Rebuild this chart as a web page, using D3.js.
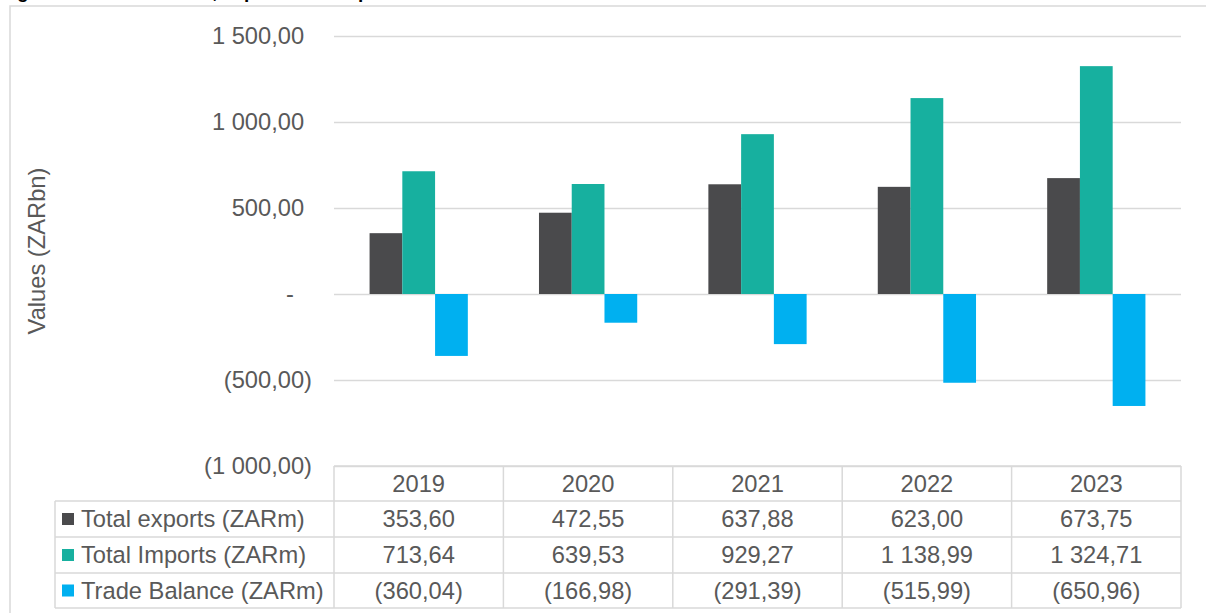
<!DOCTYPE html>
<html>
<head>
<meta charset="utf-8">
<script src="https://cdn.jsdelivr.net/npm/d3@7"></script>
<style>
  html, body { margin: 0; padding: 0; background: #fff; }
  svg { display: block; }
  text { font-family: "Liberation Sans", Arial, sans-serif; }
</style>
</head>
<body>
<svg id="chart" width="1206" height="613"></svg>
<script>
// Trade figures by year (ZAR billions)
const years = ["2019", "2020", "2021", "2022", "2023"];
const exportsVals = [353.60, 472.55, 637.88, 623.00, 673.75];
const importsVals = [713.64, 639.53, 929.27, 1138.99, 1324.71];
const balanceVals = [-360.04, -166.98, -291.39, -515.99, -650.96];
const seriesNames = ["Total exports (ZARm)", "Total Imports (ZARm)", "Trade Balance (ZARm)"];
const seriesColors = ["#4a4a4c", "#17b09f", "#00b0f0"];
const yTicks = [1500, 1000, 500, 0, -500, -1000];
const titleText = "Figure 1: Trade balance, exports and imports";

const series = [exportsVals, importsVals, balanceVals];

const W = 1206, H = 613;
const plot = { left: 334, right: 1181, top: 36, bottom: 466 };
const tableRows = [466, 501, 537, 573, 608];
const labelColLeft = 55;
const fontSize = 23.7;
const textColor = "#595959";
const gridColor = "#d9d9d9";

const locale = d3.formatLocale({ decimal: ",", thousands: "\u00a0", grouping: [3], currency: ["", ""] });
const num = locale.format(",.2f");
const fmt = v => v < 0 ? "(" + num(-v) + ")" : num(v);

const svg = d3.select("#chart");

// Heading sits above the frame, only its descenders reach the page
svg.append("text")
  .attr("x", 0).attr("y", -2)
  .attr("font-size", 19).attr("font-weight", "bold").attr("fill", "#000")
  .text(titleText);
svg.append("path")
  .attr("d", `M10,${H} V6 H${W}`)
  .attr("fill", "none").attr("stroke", gridColor).attr("stroke-width", 1.5);

// Scales
const y = d3.scaleLinear().domain([-1000, 1500]).range([plot.bottom, plot.top]);
const x0 = d3.scaleBand().domain(years).range([plot.left, plot.right]).padding(0);
const groupW = x0.bandwidth() * 0.58;
const x1 = d3.scaleBand().domain(d3.range(series.length))
  .range([(x0.bandwidth() - groupW) / 2, (x0.bandwidth() + groupW) / 2]).padding(0);

// Gridlines
svg.append("g").selectAll("line").data(yTicks).join("line")
  .attr("x1", plot.left).attr("x2", plot.right)
  .attr("y1", d => Math.round(y(d)) + 0.5).attr("y2", d => Math.round(y(d)) + 0.5)
  .attr("stroke", gridColor).attr("stroke-width", 1.5);

// Y tick labels (accounting style: positives padded by a ")" width, zero as "-")
const parenW = fontSize * 0.333;
svg.append("g").selectAll("text").data(yTicks).join("text")
  .attr("x", d => d > 0 ? 312 - parenW : (d === 0 ? 294 : 312))
  .attr("y", d => y(d))
  .attr("dy", "0.35em")
  .attr("text-anchor", "end")
  .attr("font-size", fontSize).attr("fill", textColor)
  .text(d => d === 0 ? "-" : fmt(d));

// Y axis title
svg.append("text")
  .attr("transform", `translate(45,${(plot.top + plot.bottom) / 2}) rotate(-90)`)
  .attr("text-anchor", "middle")
  .attr("font-size", fontSize).attr("fill", textColor)
  .text("Values (ZARbn)");

// Bars
const barData = [];
years.forEach((yr, i) => series.forEach((s, j) => barData.push({ yr, j, v: s[i] })));
svg.append("g").selectAll("rect").data(barData).join("rect")
  .attr("x", d => x0(d.yr) + x1(d.j))
  .attr("width", x1.bandwidth())
  .attr("y", d => y(Math.max(0, d.v)))
  .attr("height", d => Math.abs(y(d.v) - y(0)))
  .attr("fill", d => seriesColors[d.j]);

// Data table
const tbl = svg.append("g").attr("stroke", gridColor).attr("stroke-width", 1.5).attr("fill", "none");
tableRows.forEach((ry, i) => {
  tbl.append("line")
    .attr("x1", i === 0 ? plot.left : labelColLeft).attr("x2", plot.right)
    .attr("y1", ry).attr("y2", ry);
});
const colEdges = years.map(yr => x0(yr)).concat([plot.right]);
colEdges.forEach(cx => {
  tbl.append("line").attr("x1", cx).attr("x2", cx)
    .attr("y1", tableRows[0]).attr("y2", tableRows[4]);
});
tbl.append("line").attr("x1", labelColLeft).attr("x2", labelColLeft)
  .attr("y1", tableRows[1]).attr("y2", tableRows[4]);

const rowMid = i => (tableRows[i] + tableRows[i + 1]) / 2;

// Header: years
svg.append("g").selectAll("text").data(years).join("text")
  .attr("x", d => x0(d) + x0.bandwidth() / 2)
  .attr("y", rowMid(0)).attr("dy", "0.35em")
  .attr("text-anchor", "middle")
  .attr("font-size", fontSize).attr("fill", textColor)
  .text(d => d);

// Rows: legend key + values
series.forEach((s, j) => {
  const cy = rowMid(j + 1);
  svg.append("rect")
    .attr("x", 62).attr("y", cy - 6).attr("width", 12).attr("height", 12)
    .attr("fill", seriesColors[j]);
  svg.append("text")
    .attr("x", 81).attr("y", cy).attr("dy", "0.35em")
    .attr("font-size", fontSize).attr("fill", textColor)
    .text(seriesNames[j]);
  svg.append("g").selectAll("text").data(s).join("text")
    .attr("x", (d, i) => x0(years[i]) + x0.bandwidth() / 2)
    .attr("y", cy).attr("dy", "0.35em")
    .attr("text-anchor", "middle")
    .attr("font-size", fontSize).attr("fill", textColor)
    .text(d => fmt(d));
});
</script>
</body>
</html>
